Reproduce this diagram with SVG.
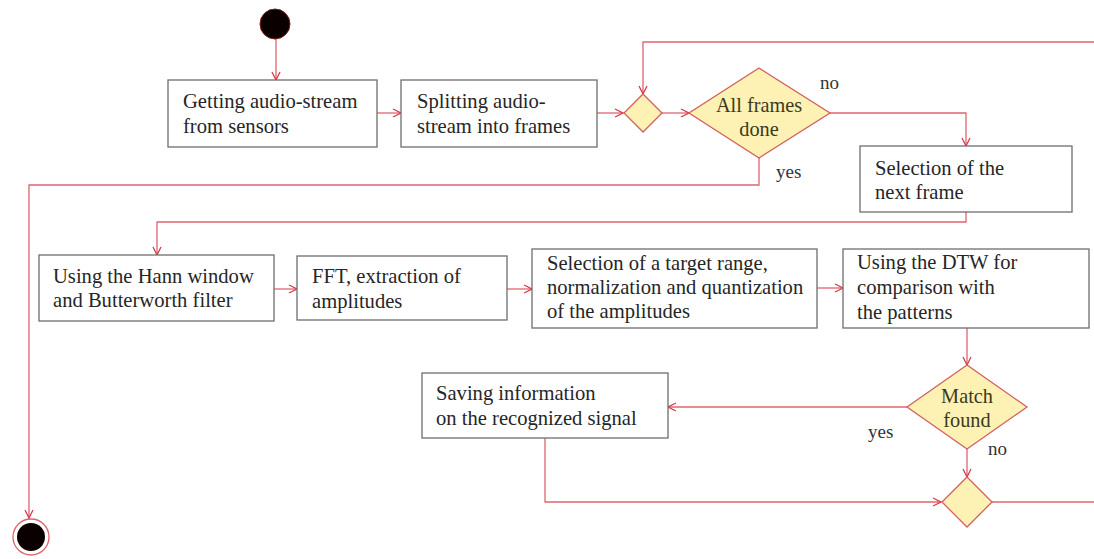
<svg xmlns="http://www.w3.org/2000/svg" width="1094" height="559" viewBox="0 0 1094 559">
<style>
.box{fill:#ffffff;stroke:#6e6e6e;stroke-width:1.3}
.dia{fill:#fdf1b4;stroke:#d2605e;stroke-width:1.3}
.txt{font-family:"Liberation Serif","Times New Roman",serif;font-size:20.6px;fill:#262626}
.dtxt{font-family:"Liberation Serif","Times New Roman",serif;font-size:20.3px;fill:#3b3a1c;text-anchor:middle}
.lbl{font-family:"Liberation Serif","Times New Roman",serif;font-size:19px;fill:#333}
.con{fill:none;stroke:#e0646f;stroke-width:1.3}
</style>
<defs>
<marker id="arr" markerWidth="10" markerHeight="10" refX="9" refY="5" orient="auto" markerUnits="userSpaceOnUse">
<path d="M1,1 L9,5 L1,9" fill="none" stroke="#d83a4a" stroke-width="1.3"/>
</marker>
</defs>
<rect width="1094" height="559" fill="#ffffff"/>

<g id="connectors">
<path class="con" d="M276,39 V80" marker-end="url(#arr)"/>
<path class="con" d="M377,113 H401" marker-end="url(#arr)"/>
<path class="con" d="M597,113 H623" marker-end="url(#arr)"/>
<path class="con" d="M662,113 H689" marker-end="url(#arr)"/>
<path class="con" d="M830,113 H966 V146" marker-end="url(#arr)"/>
<path class="con" d="M759,158 V185 H29 V518" marker-end="url(#arr)"/>
<path class="con" d="M966,212 V222 H157 V255" marker-end="url(#arr)"/>
<path class="con" d="M274,289 H297" marker-end="url(#arr)"/>
<path class="con" d="M507,289 H532" marker-end="url(#arr)"/>
<path class="con" d="M817,288 H843" marker-end="url(#arr)"/>
<path class="con" d="M967,328 V365" marker-end="url(#arr)"/>
<path class="con" d="M907,407 H668" marker-end="url(#arr)"/>
<path class="con" d="M967,449 V477" marker-end="url(#arr)"/>
<path class="con" d="M545,438 V502 H941" marker-end="url(#arr)"/>
<path class="con" d="M992,502 H1094"/>
<path class="con" d="M1094,42 H643 V94" marker-end="url(#arr)"/>
<text class="lbl" x="820" y="89">no</text>
<text class="lbl" x="776" y="178">yes</text>
<text class="lbl" x="868" y="438">yes</text>
<text class="lbl" x="988" y="455">no</text>
</g>

<g id="start">
<circle cx="275" cy="24" r="15" fill="#0a0000" stroke="#7a1a1a" stroke-width="1"/>
</g>

<g id="get-audio">
<rect class="box" x="168" y="80" width="209" height="67"/>
<text class="txt" x="183" y="108">Getting audio-stream</text>
<text class="txt" x="183" y="133">from sensors</text>
</g>

<g id="split-frames">
<rect class="box" x="401" y="80" width="196" height="67"/>
<text class="txt" x="417" y="108">Splitting audio-</text>
<text class="txt" x="417" y="133">stream into frames</text>
</g>

<g id="merge1">
<polygon class="dia" points="643,94 662,113 643,132 624,113"/>
</g>

<g id="all-frames-done">
<polygon class="dia" points="759,68 830,113 759,158 689,113"/>
<text class="dtxt" x="759" y="112">All frames</text>
<text class="dtxt" x="759" y="136">done</text>
</g>

<g id="select-next">
<rect class="box" x="860" y="146" width="212" height="66"/>
<text class="txt" x="875" y="175">Selection of the</text>
<text class="txt" x="875" y="199">next frame</text>
</g>

<g id="hann">
<rect class="box" x="39" y="255" width="235" height="66"/>
<text class="txt" x="53" y="283">Using the Hann window</text>
<text class="txt" x="53" y="307">and Butterworth filter</text>
</g>

<g id="fft">
<rect class="box" x="297" y="256" width="210" height="64"/>
<text class="txt" x="312" y="283">FFT, extraction of</text>
<text class="txt" x="312" y="308">amplitudes</text>
</g>

<g id="target-range">
<rect class="box" x="532" y="249" width="285" height="79"/>
<text class="txt" x="547" y="270">Selection of a target range,</text>
<text class="txt" x="547" y="294">normalization and quantization</text>
<text class="txt" x="547" y="318">of the amplitudes</text>
</g>

<g id="dtw">
<rect class="box" x="843" y="249" width="246" height="79"/>
<text class="txt" x="857" y="269">Using the DTW for</text>
<text class="txt" x="857" y="294">comparison with</text>
<text class="txt" x="857" y="319">the patterns</text>
</g>

<g id="match-found">
<polygon class="dia" points="967,365 1027,407 967,449 907,407"/>
<text class="dtxt" x="967" y="403">Match</text>
<text class="dtxt" x="967" y="427">found</text>
</g>

<g id="saving">
<rect class="box" x="422" y="373" width="246" height="65"/>
<text class="txt" x="436" y="400">Saving information</text>
<text class="txt" x="436" y="425">on the recognized signal</text>
</g>

<g id="merge2">
<polygon class="dia" points="967,477 992,502 967,527 942,502"/>
</g>

<g id="end">
<circle cx="31" cy="537" r="18" fill="#ffffff" stroke="#e0646f" stroke-width="1.3"/>
<circle cx="31" cy="537" r="14" fill="#0a0000"/>
</g>
</svg>
